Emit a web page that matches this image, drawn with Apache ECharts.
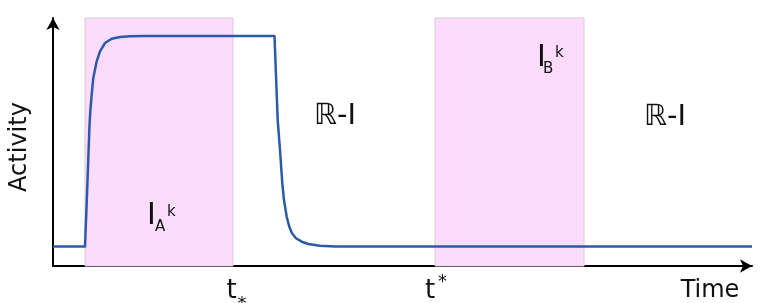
<!DOCTYPE html>
<html><head><meta charset="utf-8">
<script src="https://cdn.jsdelivr.net/npm/echarts@6/dist/echarts.min.js"></script>
<style>html,body{margin:0;padding:0;background:#fff}#c{width:766px;height:303px}</style>
</head><body><div id="c"></div>
<script>
// time (0..100 arbitrary units) and activity (0..1)
const timeX    = [0,      4.578,  4.907,  5.222,  5.336,  5.536,  5.765,  6.252,  6.724,  7.439,  8.398,  9.585,  11.016, 13.162,
                  31.688, 32.146, 32.475, 32.804, 33.047, 33.433, 33.805, 34.192, 34.764, 35.579, 36.524, 38.197, 40.343, 100];
const activity = [0.0786, 0.0786, 0.3198, 0.5685, 0.6238, 0.6907, 0.7581, 0.8254, 0.8657, 0.8992, 0.9165, 0.9234, 0.9262, 0.9274,
                  0.9274, 0.5887, 0.4677, 0.3335, 0.2661, 0.1988, 0.1585, 0.1319, 0.1117, 0.0980, 0.0887, 0.0819, 0.0786, 0.0786];
// shaded intervals I_A^k and I_B^k
const bandStart = [4.58, 54.65];
const bandEnd   = [25.75, 75.97];
// text labels
const tLower = 25.75;   // t_*
const tUpper = 54.65;   // t^*
const rLabelX = [40.34, 87.55];
const rLabelY = [0.601, 0.597];
const iaAnchor = [13.45, 0.2016];
const ibAnchor = [69.24, 0.837];

const chart = echarts.init(document.getElementById('c'), null, {renderer: 'canvas'});
const FONT = 'DejaVu Sans';
const TXT = '#111';

chart.setOption({
  animation: false,
  grid: {left: 53, right: 14, top: 18, bottom: 37},
  xAxis: {
    type: 'value', min: 0, max: 100,
    axisLine: {show: true, symbol: ['none', 'arrow'], symbolSize: [10, 12], lineStyle: {color: '#000', width: 2}},
    axisTick: {show: false}, axisLabel: {show: false}, splitLine: {show: false}
  },
  yAxis: {
    type: 'value', min: 0, max: 1,
    axisLine: {show: true, symbol: ['none', 'arrow'], symbolSize: [10, 12], lineStyle: {color: '#000', width: 2}},
    axisTick: {show: false}, axisLabel: {show: false}, splitLine: {show: false}
  },
  series: [{
    type: 'line',
    data: timeX.map((x, i) => [x, activity[i]]),
    showSymbol: false,
    smooth: false,
    lineStyle: {color: '#2c5aa8', width: 2.5, join: 'round'},
    z: 5,
    markArea: {
      silent: true,
      itemStyle: {color: '#fcdcfc', borderColor: '#d6ccd6', borderWidth: 1},
      data: bandStart.map((s, i) => [{xAxis: s, yAxis: 0}, {xAxis: bandEnd[i], yAxis: 1.012}])
    }
  }]
});

function px(x, y) { return chart.convertToPixel({gridIndex: 0}, [x, y]); }
function txt(text, x, y, size, align, extra) {
  return Object.assign({
    type: 'text', x: x, y: y, z: 10,
    style: {text: text, fontFamily: FONT, fontSize: size, fill: TXT, align: align || 'left', verticalAlign: 'middle'}
  }, extra || {});
}
const g = [];
// Activity
g.push(txt('Activity', 20, 147, 24, 'center', {rotation: Math.PI / 2}));
// Time
g.push(txt('Time', 710, 291, 24, 'center'));
// t_*
const pl = px(tLower, 0);
g.push(txt('t', pl[0] - 1.5, 291, 26, 'center'));
g.push(txt('*', pl[0] + 9, 304, 18, 'center'));
// t^*
const pu = px(tUpper, 0);
g.push(txt('t', pu[0] - 5, 291, 26, 'center'));
g.push(txt('*', pu[0] + 7.5, 282, 18, 'center'));
// R-I labels
rLabelX.forEach((x, i) => { const p = px(x, rLabelY[i]); g.push(txt('ℝ-I', p[0], p[1], 29, 'center')); });
// I_A^k
const a = px(iaAnchor[0], iaAnchor[1]);
g.push(txt('I', a[0], a[1], 30, 'left'));
g.push(txt('A', a[0] + 8, a[1] + 11, 15, 'left'));
g.push(txt('k', a[0] + 20, a[1] - 4, 15, 'left'));
// I_B^k
const b = px(ibAnchor[0], ibAnchor[1]);
g.push(txt('I', b[0], b[1], 30, 'left'));
g.push(txt('B', b[0] + 6, b[1] + 11, 15, 'left'));
g.push(txt('k', b[0] + 18, b[1] - 5, 15, 'left'));
chart.setOption({graphic: g});
</script></body></html>
